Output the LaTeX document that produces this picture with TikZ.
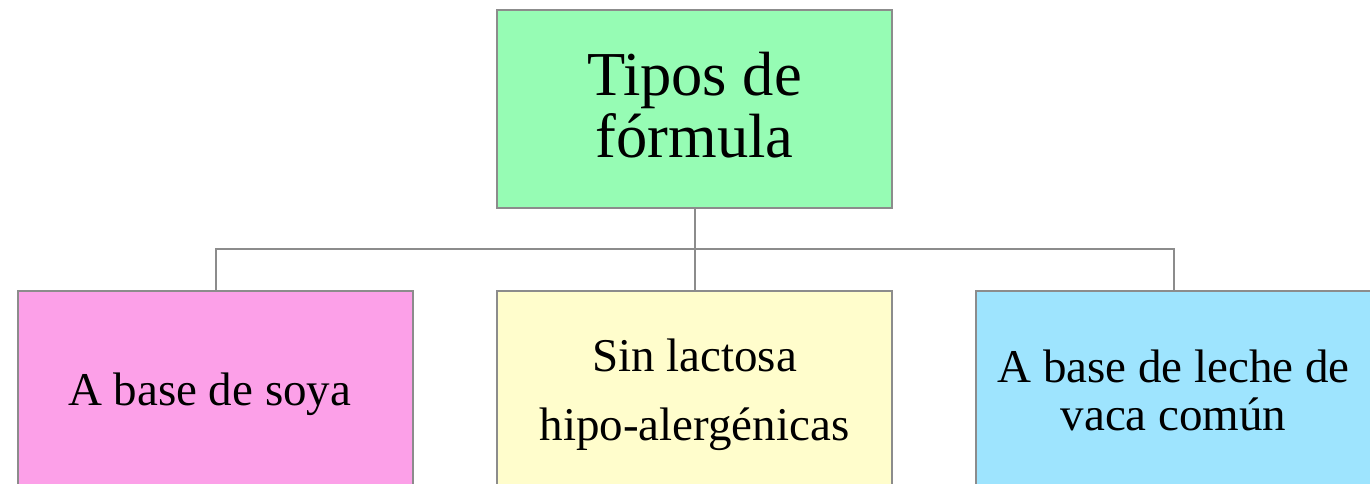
\documentclass[tikz,border=0pt]{standalone}
\usepackage{fontspec}
\setmainfont{Liberation Serif}
\definecolor{grisborde}{RGB}{140,140,140}
\definecolor{verde}{RGB}{150,252,180}
\definecolor{rosa}{RGB}{252,160,232}
\definecolor{amarillo}{RGB}{255,253,204}
\definecolor{celeste}{RGB}{158,228,254}

\begin{document}
\begin{tikzpicture}
  [
    x               = 1pt,
    y               = -1pt,
    caja/.style     = {draw=grisborde, line width=2pt, minimum width=395pt,
                       minimum height=198pt, inner sep=0pt, align=center,
                       text depth=0pt},
    titulo/.style   = {caja, font=\fontsize{62.5}{62}\selectfont, text height=96pt},
    tipo/.style     = {caja, font=\fontsize{47}{48}\selectfont},
    conector/.style = {draw=grisborde, line width=2pt}
  ]
  \useasboundingbox (0,0) rectangle (1370,483);

  \node[titulo, fill=verde] (tipos) at (694.5,109) { Tipos de\\fórmula };
  \node[tipo, fill=rosa, text height=30pt] (soya) at (215.5,390) { A base de soya };
  \node[tipo, fill=amarillo, font=\fontsize{47}{69}\selectfont] (lactosa)
    at (694.5,390) { Sin lactosa\\hipo-alergénicas };
  \node[tipo, fill=celeste] (vaca) at (1173.5,390) { A base de leche de\\vaca común };

  \coordinate (reparto) at (694.5,249);
  \draw[conector] (tipos.south) -- (reparto);
  \draw[conector] (reparto) -| (soya.north);
  \draw[conector] (reparto) -- (lactosa.north);
  \draw[conector] (reparto) -| (vaca.north);
\end{tikzpicture}
\end{document}
